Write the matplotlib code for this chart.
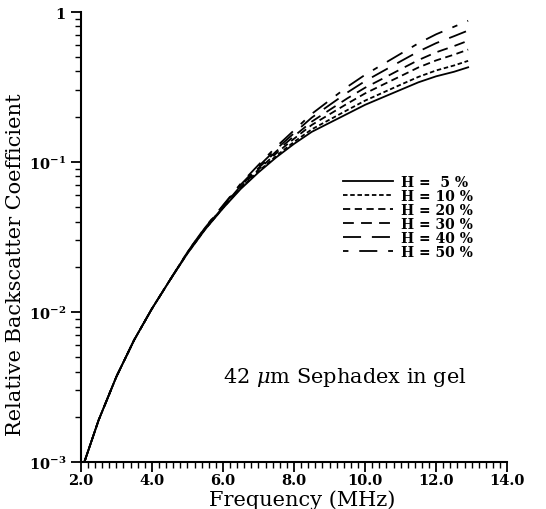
import numpy as np
import matplotlib
matplotlib.use("Agg")
import matplotlib.pyplot as plt
from matplotlib.ticker import MultipleLocator, LogLocator, FixedLocator, FixedFormatter, NullFormatter

plt.rcParams['font.family'] = ['DejaVu Serif']
plt.rcParams['mathtext.fontset'] = 'dejavuserif'

# frequency (MHz)
freq = [2.1, 2.5, 3.0, 3.5, 4.0, 4.5, 5.0, 5.5, 6.0, 6.5, 7.0, 7.5,
        8.0, 8.5, 9.0, 9.5, 10.0, 10.5, 11.0, 11.5, 12.0, 12.5, 12.9]

# common low-frequency part (curves overlap below ~5 MHz)
low = [0.0010, 0.0019, 0.0037, 0.0065, 0.0105, 0.0162]

h5 = low + [0.0245, 0.0355, 0.0490, 0.0660, 0.0851, 0.1072, 0.1318, 0.1585,
            0.1820, 0.2089, 0.2399, 0.2692, 0.3020, 0.3388, 0.3715, 0.3981, 0.4266]
h10 = low + [0.0246, 0.0356, 0.0493, 0.0668, 0.0865, 0.1096, 0.1358, 0.1648,
             0.1910, 0.2213, 0.2559, 0.2891, 0.3266, 0.3681, 0.4064, 0.4385, 0.4710]
h20 = low + [0.0248, 0.0360, 0.0499, 0.0681, 0.0889, 0.1140, 0.1426, 0.1762,
             0.2075, 0.2443, 0.2858, 0.3266, 0.3724, 0.4256, 0.4742, 0.5176, 0.5598]
h30 = low + [0.0249, 0.0362, 0.0502, 0.0692, 0.0910, 0.1175, 0.1483, 0.1854,
             0.2218, 0.2649, 0.3119, 0.3589, 0.4140, 0.4764, 0.5370, 0.5902, 0.6412]
h40 = low + [0.0250, 0.0365, 0.0508, 0.0705, 0.0933, 0.1216, 0.1552, 0.1972,
             0.2393, 0.2897, 0.3451, 0.4018, 0.4677, 0.5433, 0.6180, 0.6871, 0.7499]
h50 = low + [0.0251, 0.0367, 0.0513, 0.0716, 0.0955, 0.1259, 0.1622, 0.2089,
             0.2570, 0.3162, 0.3802, 0.4467, 0.5248, 0.6166, 0.7079, 0.7943, 0.8710]

series = [("H =  5 %", h5, '-'),
          ("H = 10 %", h10, (0, (2.5, 1.5))),
          ("H = 20 %", h20, (0, (4, 2.5))),
          ("H = 30 %", h30, (0, (6, 4))),
          ("H = 40 %", h40, (0, (10, 6))),
          ("H = 50 %", h50, (0, (3, 6, 10, 6)))]

fig = plt.figure(figsize=(5.46, 5.10), dpi=100)
ax = fig.add_axes([0.148, 0.092, 0.781, 0.883])

for label, vals, ls in series:
    ax.plot(freq, vals, color='black', lw=1.3, linestyle=ls, label=label)

ax.set_yscale('log')
ax.set_xlim(2.0, 14.0)
ax.set_ylim(1e-3, 1)

ax.xaxis.set_major_locator(MultipleLocator(2.0))
ax.xaxis.set_minor_locator(MultipleLocator(0.2))
ax.set_xticklabels([f"{v:.1f}" for v in ax.get_xticks()], fontweight='bold', fontsize=10.5)

ax.yaxis.set_major_locator(FixedLocator([1e-3, 1e-2, 1e-1, 1]))
ax.yaxis.set_major_formatter(FixedFormatter([r'$\mathbf{10}^{\mathbf{-3}}$', r'$\mathbf{10}^{\mathbf{-2}}$',
                                              r'$\mathbf{10}^{\mathbf{-1}}$', r'$\mathbf{1}$']))
ax.yaxis.set_minor_locator(LogLocator(base=10, subs=np.arange(2, 10)))
ax.yaxis.set_minor_formatter(NullFormatter())
for t in ax.get_yticklabels():
    t.set_fontsize(10.5)

ax.tick_params(which='major', direction='out', length=7, width=1.3)
ax.tick_params(which='minor', direction='out', length=4, width=1.0)
ax.tick_params(axis='x', pad=1)

for s in ['top', 'right']:
    ax.spines[s].set_visible(False)
for s in ['left', 'bottom']:
    ax.spines[s].set_linewidth(1.5)

ax.set_xlabel("Frequency (MHz)", fontsize=15)
ax.set_ylabel("Relative Backscatter Coefficient", fontsize=15)
ax.xaxis.set_label_coords(0.52, -0.06)
ax.yaxis.set_label_coords(-0.13, 0.44)

ax.text(0.62, 0.19, r"42 $\mu$m Sephadex in gel", transform=ax.transAxes,
        fontsize=15, ha='center', va='center')

leg = ax.legend(loc='upper left', bbox_to_anchor=(0.585, 0.665), frameon=False,
                handlelength=3.6, handletextpad=0.6, labelspacing=0.0,
                prop={'family': 'DejaVu Serif', 'weight': 'bold', 'size': 10})

fig.savefig("out.png", dpi=100)
